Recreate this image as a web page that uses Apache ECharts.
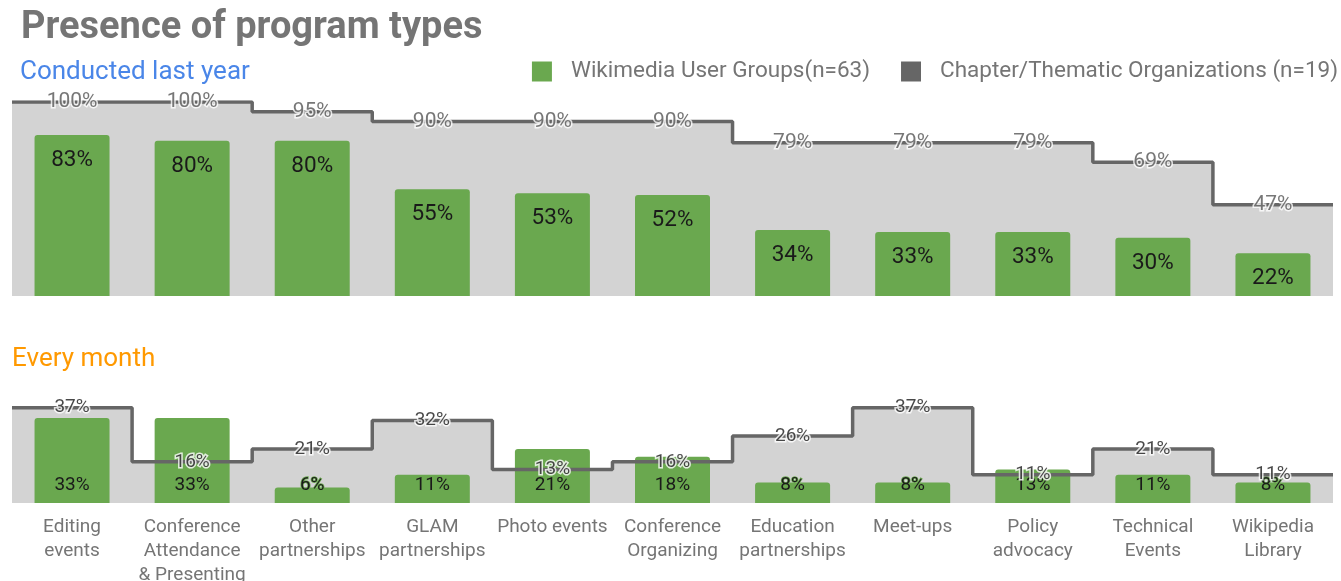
<!DOCTYPE html>
<html>
<head>
<meta charset="utf-8">
<script src="https://cdn.jsdelivr.net/npm/echarts@6/dist/echarts.min.js"></script>
<style>html,body{margin:0;padding:0;background:#fff;}#c{width:1341px;height:581px;}</style>
</head>
<body>
<div id="c"></div>
<script>
const categories = ['Editing\nevents','Conference\nAttendance\n& Presenting','Other\npartnerships','GLAM\npartnerships','Photo events','Conference\nOrganizing','Education\npartnerships','Meet-ups','Policy\nadvocacy','Technical\nEvents','Wikipedia\nLibrary'];
const userGroupsLastYear = [83,80,80,55,53,52,34,33,33,30,22];
const chaptersLastYear = [100,100,95,90,90,90,79,79,79,69,47];
const userGroupsMonthly = [33,33,6,11,21,18,8,8,13,11,8];
const chaptersMonthly = [37,16,21,32,13,16,26,37,11,21,11];

const UG = 'Wikimedia User Groups(n=63)';
const CH = 'Chapter/Thematic Organizations (n=19)';
const GREEN = '#6aa84f', DARK = '#666666', AREA = '#d3d3d3';
const FONT = 'Roboto';

function stepData(vals){
  const d = vals.map((v,i)=>[i-0.5, v]);
  d.push([vals.length-0.5, vals[vals.length-1]]);
  return d;
}

function seriesFor(gi, ug, ch, top){
  const xc = gi*2, xv = gi*2+1;
  return [
    {type:'line', xAxisIndex:xv, yAxisIndex:gi, data:stepData(ch), step:'end', symbol:'none',
     lineStyle:{width:0}, areaStyle:{color:AREA, opacity:1}, z:1, silent:true, tooltip:{show:false}},
    {name:UG, type:'bar', xAxisIndex:xc, yAxisIndex:gi, data:ug, barWidth:75, z:2,
     itemStyle:{color:GREEN, borderRadius:[3,3,0,0]},
     label: top ? {show:true, position:'insideTop', distance:14, formatter:'{c}%', fontSize:22.5, color:'#1a1a1a', fontFamily:FONT}
               : {show:true, position:'insideBottom', distance:8, formatter:'{c}%', fontSize:19, color:'#1a1a1a', fontFamily:FONT, textBorderColor:GREEN, textBorderWidth:1.5}},
    {name:CH, type:'line', xAxisIndex:xv, yAxisIndex:gi, data:stepData(ch), step:'end', symbol:'none',
     color:DARK, lineStyle:{width:3.5, color:DARK}, z:3},
    {type:'scatter', xAxisIndex:xc, yAxisIndex:gi, data:ch, symbolSize:0, z:4,
     label:{show:true, position:'inside', formatter:'{c}%', fontSize: top?21:19, color: top?'#555555':'#1a1a1a', fontFamily:FONT,
            textBorderColor:'#fff', textBorderWidth:3}}
  ];
}

const chart = echarts.init(document.getElementById('c'));
chart.setOption({
  animation:false,
  backgroundColor:'#fff',
  textStyle:{fontFamily:FONT},
  title:[
    {text:'Presence of program types', left:21, top:9, padding:0, textStyle:{fontSize:38, fontWeight:'bold', color:'#757575', fontFamily:FONT}},
    {text:'Conducted last year', left:20, top:59, padding:0, textStyle:{fontSize:26, fontWeight:'normal', color:'#4a86e8', fontFamily:FONT}},
    {text:'Every month', left:12, top:346, padding:0, textStyle:{fontSize:26, fontWeight:'normal', color:'#ff9900', fontFamily:FONT}}
  ],
  legend:{
    right:3, top:60, padding:0, itemWidth:20, itemHeight:20, itemGap:31,
    textStyle:{fontSize:22.5, color:'#757575', fontFamily:FONT, padding:[0,0,0,14]},
    data:[{name:UG, icon:'rect', itemStyle:{color:GREEN}}, {name:CH, icon:'rect', itemStyle:{color:DARK}}]
  },
  grid:[
    {left:12, right:8, top:102, bottom:285, outerBoundsMode:'none', containLabel:false},
    {left:12, right:8, top:400, bottom:78, outerBoundsMode:'none', containLabel:false}
  ],
  xAxis:[
    {type:'category', gridIndex:0, data:categories, axisLine:{show:false}, axisTick:{show:false}, axisLabel:{show:false}},
    {type:'value', gridIndex:0, min:-0.5, max:10.5, show:false},
    {type:'category', gridIndex:1, data:categories, axisLine:{show:false}, axisTick:{show:false},
     axisLabel:{show:true, interval:0, fontSize:19, color:'#757575', lineHeight:24, margin:12, fontFamily:FONT}},
    {type:'value', gridIndex:1, min:-0.5, max:10.5, show:false}
  ],
  yAxis:[
    {type:'value', gridIndex:0, min:0, max:100, show:false},
    {type:'value', gridIndex:1, min:0, max:40, show:false}
  ],
  series:[].concat(seriesFor(0, userGroupsLastYear, chaptersLastYear, true), seriesFor(1, userGroupsMonthly, chaptersMonthly, false))
});
</script>
</body>
</html>
